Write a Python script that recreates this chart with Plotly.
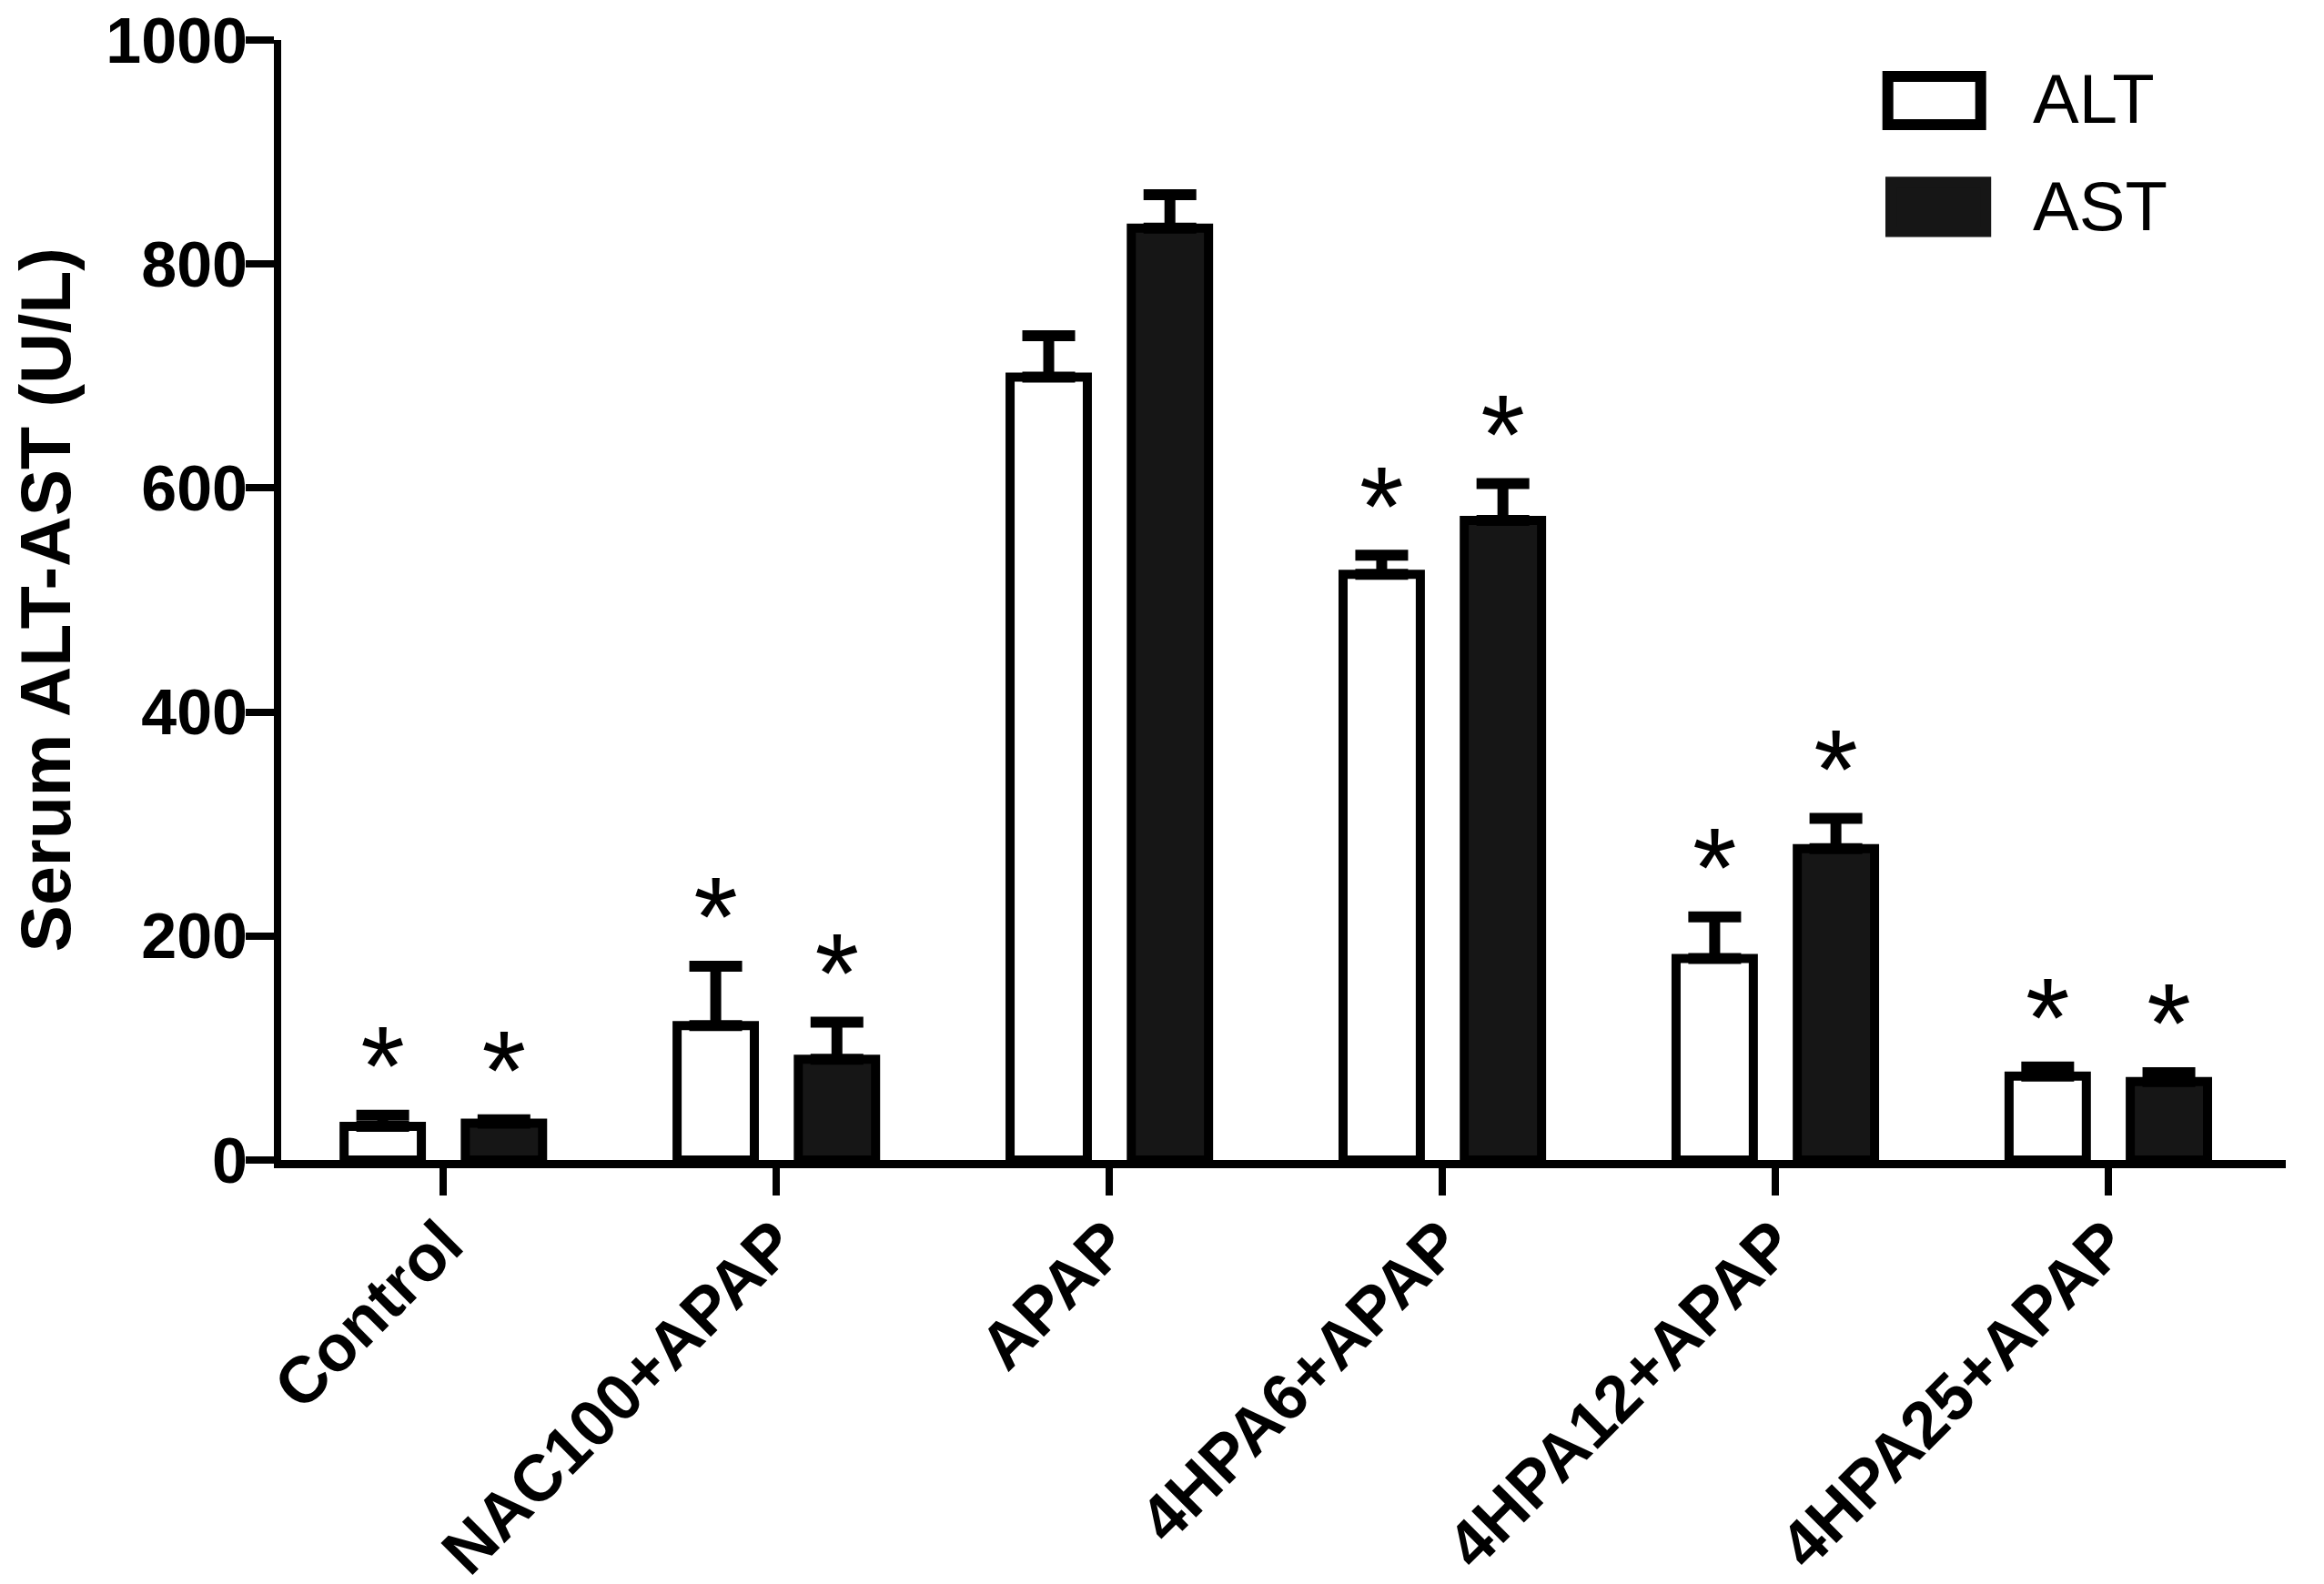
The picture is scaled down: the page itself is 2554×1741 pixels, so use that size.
import plotly.graph_objects as go

# values (U/L), error = upper SEM bar
groups = ["Control", "NAC100+APAP", "APAP", "4HPA6+APAP", "4HPA12+APAP", "4HPA25+APAP"]
alt_mean = [30, 120, 699, 523, 180, 75]
alt_err = [10, 53, 37, 17, 37, 8]
ast_mean = [33, 90, 832, 571, 278, 70]
ast_err = [3, 33, 30, 33, 27, 8]
alt_sig = [True, True, False, True, True, True]
ast_sig = [True, True, False, True, True, True]
y_ticks = [0, 200, 400, 600, 800, 1000]

FONT = "Liberation Sans, Arial, sans-serif"
DARK = "#161616"
BAR_W = 0.232
SHIFT = 0.182
STAR_PAD = 34

x_idx = list(range(len(groups)))

fig = go.Figure()


def add_series(name, means, errs, sig, fill, side):
    fig.add_trace(go.Bar(
        x=x_idx, y=means, name=name,
        width=BAR_W, offset=side * SHIFT - BAR_W / 2,
        marker=dict(color=fill, line=dict(color="black", width=10)),
        error_y=dict(type="data", symmetric=False, array=errs,
                     arrayminus=[0] * len(errs), color="black",
                     thickness=12, width=29),
    ))
    # significance stars above the error bars
    xs = [i + side * SHIFT for i, s in zip(x_idx, sig) if s]
    ys = [m + e + STAR_PAD for m, e, s in zip(means, errs, sig) if s]
    fig.add_trace(go.Scatter(
        x=xs, y=ys, mode="text", text=["*"] * len(xs),
        textposition="middle center",
        textfont=dict(family=FONT, size=125, color="black"),
        hoverinfo="skip",
    ))


add_series("ALT", alt_mean, alt_err, alt_sig, "white", -1)
add_series("AST", ast_mean, ast_err, ast_sig, DARK, 1)

fig.update_layout(
    width=2554, height=1741,
    margin=dict(l=301, r=50, t=36, b=474),
    plot_bgcolor="white", paper_bgcolor="white",
    barmode="overlay", showlegend=False,
    font=dict(family=FONT, color="black"),
)

fig.update_xaxes(
    range=[-0.487, 5.533], tickmode="array", tickvals=x_idx, ticktext=groups,
    tickangle=-45, tickfont=dict(size=72, weight="bold"),
    showline=True, linecolor="black", linewidth=9,
    ticks="outside", ticklen=30, tickwidth=8, tickcolor="black",
    ticklabelstandoff=-18, ticklabeloverflow="allow", automargin=False,
    showgrid=False, zeroline=False,
)
fig.update_yaxes(
    range=[0, 1000], tickmode="array", tickvals=y_ticks,
    tickfont=dict(size=70, weight="bold"),
    showline=True, linecolor="black", linewidth=8,
    ticks="outside", ticklen=31, tickwidth=8, tickcolor="black",
    ticklabelstandoff=-16, ticklabeloverflow="allow", automargin=False,
    showgrid=False, zeroline=False,
)

# y axis title
fig.add_annotation(
    text="Serum ALT-AST (U/L)", textangle=-90,
    xref="paper", yref="paper", x=-0.1176, y=0.5,
    xanchor="center", yanchor="middle", showarrow=False,
    font=dict(size=77, weight="bold"),
)

# hand-made legend with large swatches
fig.add_shape(type="rect", xref="paper", yref="paper",
              x0=0.8015, x1=0.8478, y0=0.9244, y1=0.9675,
              fillcolor="white", line=dict(color="black", width=12))
fig.add_shape(type="rect", xref="paper", yref="paper",
              x0=0.8030, x1=0.8503, y0=0.8290, y1=0.8730,
              fillcolor=DARK, line=dict(color=DARK, width=12))
fig.add_annotation(text="ALT", xref="paper", yref="paper", x=0.8730, y=0.948,
                   xanchor="left", yanchor="middle", showarrow=False,
                   font=dict(size=76))
fig.add_annotation(text="AST", xref="paper", yref="paper", x=0.8730, y=0.852,
                   xanchor="left", yanchor="middle", showarrow=False,
                   font=dict(size=76))

fig.write_html("out.html")
